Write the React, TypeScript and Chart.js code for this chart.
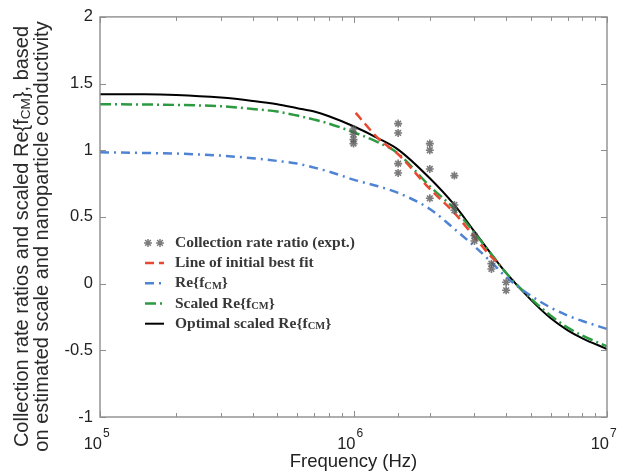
import React, { useEffect, useRef } from "react";
import { Chart, registerables } from "chart.js";

Chart.register(...registerables);

// ---------------- data ----------------
const curveFreq = [1e5, 1.5e5, 2e5, 3e5, 4e5, 5e5, 6e5, 7e5, 8e5, 1e6, 1.25e6, 1.5e6, 2e6, 2.5e6, 3e6, 3.5e6, 4e6, 5e6, 6e6, 7e6, 8e6, 1e7];
const reFcm = [0.985, 0.98, 0.975, 0.96, 0.94, 0.92, 0.9, 0.87, 0.84, 0.78, 0.73, 0.68, 0.56, 0.41, 0.28, 0.16, 0.05, -0.09, -0.18, -0.24, -0.28, -0.34];
const scaledReFcm = [1.345, 1.343, 1.34, 1.33, 1.31, 1.29, 1.26, 1.23, 1.2, 1.135, 1.06, 0.975, 0.73, 0.56, 0.38, 0.22, 0.08, -0.11, -0.24, -0.33, -0.39, -0.47];
const optimalScaledReFcm = [1.42, 1.42, 1.415, 1.395, 1.37, 1.345, 1.315, 1.29, 1.255, 1.18, 1.09, 1.005, 0.79, 0.59, 0.39, 0.22, 0.08, -0.12, -0.26, -0.35, -0.41, -0.49];

const bestFitFreq = [1.02e6, 1.25e6, 1.5e6, 2e6, 2.5e6, 3e6, 3.5e6, 3.8e6];
const bestFitRatio = [1.28, 1.09, 0.97, 0.71, 0.53, 0.35, 0.2, 0.14];

const exptFreq = [1e6, 1e6, 1e6, 1e6, 1.5e6, 1.5e6, 1.5e6, 1.5e6, 2e6, 2e6, 2e6, 2e6, 2.5e6, 2.5e6, 2.5e6, 3e6, 3e6, 3.5e6, 3.5e6, 4e6, 4e6];
const exptRatio = [1.16, 1.12, 1.08, 1.05, 1.2, 1.13, 0.9, 0.83, 1.05, 1.0, 0.86, 0.64, 0.81, 0.59, 0.55, 0.36, 0.32, 0.15, 0.11, 0.01, -0.05];

const yTicksStep = 0.5;
const yMin = -1;
const yMax = 2;
const xMin = 1e5;
const xMax = 1e7;

type Part = { t: string; sub?: boolean };
const yTitleLine1: Part[] = [{ t: "Collection rate ratios and scaled Re{f" }, { t: "CM", sub: true }, { t: "}, based" }];
const yTitleLine2: Part[] = [{ t: "on estimated scale and nanoparticle conductivity" }];
const xTitle = "Frequency (Hz)";

const legendLabels: Part[][] = [
  [{ t: "Collection rate ratio (expt.)" }],
  [{ t: "Line of initial best fit" }],
  [{ t: "Re{f" }, { t: "CM", sub: true }, { t: "}" }],
  [{ t: "Scaled Re{f" }, { t: "CM", sub: true }, { t: "}" }],
  [{ t: "Optimal scaled Re{f" }, { t: "CM", sub: true }, { t: "}" }],
];

// ---------------- styles ----------------
const SANS = '"Liberation Sans", Arial, sans-serif';
const COL_STAR = "rgba(90,90,90,0.8)";
const COL_RED = "#e9472f";
const COL_BLUE = "#4f83d4";
const COL_GREEN = "#2c9a40";
const COL_BLACK = "#000000";
const DASH_RED = [9, 5];
const DASH_BLUE = [9, 5, 2, 5];
const DASH_GREEN = [11, 4, 2, 4];

const zip = (xs: number[], ys: number[]) => xs.map((x, i) => ({ x, y: ys[i] }));
const isPow10 = (v: number) => {
  const e = Math.log10(v);
  return Math.abs(e - Math.round(e)) < 1e-9;
};

function measureRich(ctx: CanvasRenderingContext2D, parts: Part[], base: string, sub: string) {
  let w = 0;
  for (const p of parts) {
    ctx.font = p.sub ? sub : base;
    w += ctx.measureText(p.t).width;
  }
  return w;
}
function drawRich(ctx: CanvasRenderingContext2D, parts: Part[], x: number, y: number, base: string, sub: string, subShift: number) {
  let cx = x;
  for (const p of parts) {
    ctx.font = p.sub ? sub : base;
    ctx.fillText(p.t, cx, p.sub ? y + subShift : y);
    cx += ctx.measureText(p.t).width;
  }
}

const framePlugin = {
  id: "frame",
  afterDraw(chart: any) {
    const { ctx, chartArea } = chart;
    const { left, right, top, bottom } = chartArea;
    const xs = chart.scales.x;
    const ys = chart.scales.y;
    ctx.save();
    ctx.strokeStyle = "#8e8e8e";
    ctx.lineWidth = 1.4;
    ctx.strokeRect(left, top, right - left, bottom - top);
    ctx.lineWidth = 1;
    ctx.beginPath();
    for (const t of xs.ticks) {
      const px = Math.round(xs.getPixelForValue(t.value)) + 0.5;
      const len = isPow10(t.value) ? 6 : 4;
      ctx.moveTo(px, bottom);
      ctx.lineTo(px, bottom - len);
      ctx.moveTo(px, top);
      ctx.lineTo(px, top + len);
    }
    for (const t of ys.ticks) {
      const py = Math.round(ys.getPixelForValue(t.value)) + 0.5;
      ctx.moveTo(left, py);
      ctx.lineTo(left + 6, py);
      ctx.moveTo(right, py);
      ctx.lineTo(right - 6, py);
    }
    ctx.stroke();
    // x tick labels 10^n with superscript exponent
    ctx.fillStyle = "#222";
    ctx.textBaseline = "alphabetic";
    for (const t of xs.ticks) {
      if (!isPow10(t.value)) continue;
      const px = xs.getPixelForValue(t.value);
      const e = String(Math.round(Math.log10(t.value)));
      ctx.font = `16.5px ${SANS}`;
      const w1 = ctx.measureText("10").width;
      const lx = px + 2 - w1;
      ctx.fillText("10", lx, bottom + 32);
      ctx.font = `12px ${SANS}`;
      ctx.fillText(e, lx + w1 + 1, bottom + 20);
    }
    ctx.restore();
  },
};

const yTitlePlugin = {
  id: "ytitle",
  afterDraw(chart: any) {
    const { ctx } = chart;
    const base = `20px ${SANS}`;
    const sub = `13.5px ${SANS}`;
    ctx.save();
    ctx.fillStyle = "#2a2a2a";
    ctx.textBaseline = "middle";
    const cy = chart.height / 2;
    [yTitleLine1, yTitleLine2].forEach((line, i) => {
      ctx.save();
      ctx.translate(22 + i * 20, cy);
      ctx.rotate(-Math.PI / 2);
      const w = measureRich(ctx, line, base, sub);
      drawRich(ctx, line, -w / 2, 0, base, sub, 4);
      ctx.restore();
    });
    ctx.restore();
  },
};

const legendPlugin = {
  id: "customLegend",
  afterDraw(chart: any) {
    const { ctx, chartArea } = chart;
    const base = 'bold 15.5px "Liberation Serif", "DejaVu Serif", serif';
    const sub = 'bold 10.5px "Liberation Serif", "DejaVu Serif", serif';
    const x0 = chartArea.left + 45;
    const textX = chartArea.left + 75;
    const rowY = (i: number) => chartArea.top + 226 + i * 20.2;
    const ds = chart.data.datasets;
    ctx.save();
    ds.forEach((d: any, i: number) => {
      const y = rowY(i);
      if (i === 0) {
        ctx.strokeStyle = COL_STAR;
        ctx.lineWidth = 1.5;
        for (const sx of [x0 + 3, x0 + 15]) {
          const r = 4;
          ctx.beginPath();
          for (let k = 0; k < 4; k++) {
            const a = (k * Math.PI) / 4;
            ctx.moveTo(sx - r * Math.cos(a), y - r * Math.sin(a));
            ctx.lineTo(sx + r * Math.cos(a), y + r * Math.sin(a));
          }
          ctx.stroke();
        }
      } else {
        ctx.strokeStyle = d.borderColor;
        ctx.lineWidth = d.borderWidth;
        ctx.setLineDash(d.borderDash || []);
        ctx.beginPath();
        ctx.moveTo(x0, y);
        ctx.lineTo(x0 + 19, y);
        ctx.stroke();
        ctx.setLineDash([]);
      }
      ctx.fillStyle = "#383838";
      ctx.textBaseline = "middle";
      drawRich(ctx, legendLabels[i], textX, y, base, sub, 2.5);
    });
    ctx.restore();
  },
};

export default function App() {
  const ref = useRef<HTMLCanvasElement | null>(null);
  useEffect(() => {
    if (!ref.current) return;
    const tickFont = { family: SANS, size: 16.5 };
    const lineCommon = { showLine: true, pointRadius: 0, cubicInterpolationMode: "monotone" };
    const chart = new Chart(ref.current, {
      type: "scatter",
      data: {
        datasets: [
          {
            label: "Collection rate ratio (expt.)",
            data: zip(exptFreq, exptRatio),
            showLine: false,
            pointStyle: "star",
            pointRadius: 4,
            borderColor: COL_STAR,
            backgroundColor: COL_STAR,
            borderWidth: 1.6,
          },
          {
            label: "Line of initial best fit",
            data: zip(bestFitFreq, bestFitRatio),
            ...lineCommon,
            borderColor: COL_RED,
            borderWidth: 2.5,
            borderDash: DASH_RED,
          },
          {
            label: "Re{fCM}",
            data: zip(curveFreq, reFcm),
            ...lineCommon,
            borderColor: COL_BLUE,
            borderWidth: 2.5,
            borderDash: DASH_BLUE,
          },
          {
            label: "Scaled Re{fCM}",
            data: zip(curveFreq, scaledReFcm),
            ...lineCommon,
            borderColor: COL_GREEN,
            borderWidth: 2.5,
            borderDash: DASH_GREEN,
          },
          {
            label: "Optimal scaled Re{fCM}",
            data: zip(curveFreq, optimalScaledReFcm),
            ...lineCommon,
            borderColor: COL_BLACK,
            borderWidth: 2,
          },
        ],
      },
      options: {
        responsive: false,
        animation: false,
        layout: { padding: { top: 16, right: 12, left: 0, bottom: 0 } },
        plugins: { legend: { display: false }, tooltip: { enabled: false } },
        scales: {
          x: {
            type: "logarithmic",
            min: xMin,
            max: xMax,
            grid: { display: false, drawTicks: false },
            border: { display: false },
            ticks: {
              autoSkip: false,
              maxRotation: 0,
              padding: 12,
              color: "#222",
              font: tickFont,
              callback: () => "",
            },
            title: {
              display: true,
              text: xTitle,
              color: "#222",
              font: { family: SANS, size: 18.5 },
              padding: { top: 0, bottom: 0 },
            },
            afterFit: (s: any) => {
              s.height = 56;
            },
          },
          y: {
            type: "linear",
            min: yMin,
            max: yMax,
            grid: { display: false, drawTicks: false },
            border: { display: false },
            ticks: {
              stepSize: yTicksStep,
              padding: 7,
              color: "#222",
              font: tickFont,
              callback: (v: any) => String(Math.round(Number(v) * 10) / 10),
            },
            afterFit: (s: any) => {
              s.width = 100;
            },
          },
        },
      } as any,
      plugins: [framePlugin, yTitlePlugin, legendPlugin],
    } as any);
    return () => chart.destroy();
  }, []);
  return (
    <div style={{ position: "fixed", left: 0, top: 0, width: 619, height: 473, background: "#fff" }}>
      <canvas ref={ref} width={619} height={473} style={{ display: "block" }} />
    </div>
  );
}
